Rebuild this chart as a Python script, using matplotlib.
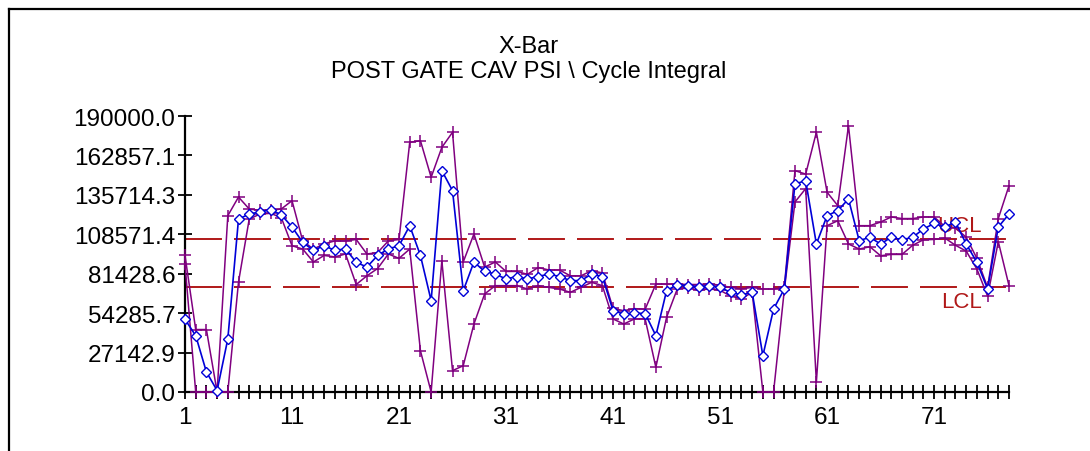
import matplotlib.pyplot as plt
import numpy as np
from matplotlib.lines import Line2D

# subgroup numbers
samples = list(range(1, 79))

# X-bar (subgroup mean), blue diamonds
xbar = [50000, 38800, 13800, 1000, 36500, 119000, 122500, 124000, 125500, 122000,
        113600, 103000, 97500, 100700, 97500, 98500, 89300, 86000, 94000, 98500,
        100700, 114500, 94000, 62900, 152400, 138600, 69700, 89500, 83000, 81200,
        77800, 79500, 77800, 79500, 81200, 79500, 76700, 76700, 81200, 79500,
        56000, 53700, 54400, 54000, 38800, 69700, 74000, 73000, 72500, 73000,
        72000, 68600, 66800, 68600, 25000, 57100, 70900, 143200, 145500, 101900,
        121400, 124800, 132900, 104200, 106500, 101900, 106500, 104800, 106500, 112200,
        116000, 113600, 117000, 101900, 89300, 70900, 113600, 122500]

# subgroup high, purple plus
high = [94000, 43000, 43000, 0, 121400, 134200, 126000, 125000, 125000, 126000,
        131700, 104000, 98400, 102000, 104000, 104000, 105000, 95000, 96000, 104000,
        105000, 171900, 173000, 147800, 168400, 178800, 89500, 108800, 86000, 89500,
        83000, 83000, 81000, 85700, 84000, 84000, 80000, 80000, 83500, 82000,
        57500, 56000, 57400, 57000, 74300, 74300, 74300, 74000, 74000, 74500,
        73500, 72000, 71000, 72000, 70900, 70900, 72000, 152400, 150000, 178800,
        137500, 128300, 183300, 114500, 114500, 117000, 120500, 119400, 119400, 120500,
        120500, 114000, 113000, 106500, 92000, 72000, 119400, 142000]

# subgroup low, purple plus
low = [88000, 0, 0, 0, 0, 75700, 119000, 122500, 123000, 120000,
       100700, 98400, 89500, 94000, 93000, 95000, 74000, 80000, 85000, 95000,
       92000, 98400, 28400, 0, 90400, 14700, 18100, 46800, 67500, 73200,
       73200, 73200, 70900, 73200, 72000, 70900, 68600, 72000, 75500, 73200,
       50300, 46800, 50300, 50300, 17000, 51400, 70900, 71500, 70000, 71000,
       70000, 66000, 64200, 68600, 0, 0, 70000, 130800, 140000, 6900,
       114500, 117900, 101900, 98400, 100000, 93800, 94700, 94700, 101000, 104800,
       105000, 106000, 101000, 97000, 84600, 66000, 103500, 73200]

ucl = 105000
lcl = 72000
y_max = 190000

plt.rcParams['font.family'] = ['Liberation Sans', 'DejaVu Sans']

fig = plt.figure(figsize=(10.9, 4.52), dpi=100)
ax = fig.add_axes([185 / 1090, 1 - 393 / 452, 824 / 1090, 276 / 452])

# control limits
red = '#b01818'
ax.axhline(ucl, color=red, lw=1.4, ls=(0, (19, 6.2)), zorder=1)
ax.axhline(lcl, color=red, lw=1.4, ls=(0, (19, 6.2)), zorder=1)
ax.text(75.5, ucl + 2500, 'UCL', color=red, fontsize=16, ha='right', va='bottom', zorder=1)
ax.text(75.5, lcl - 2500, 'LCL', color=red, fontsize=16, ha='right', va='top', zorder=1)

# data series
purple = '#800080'
ax.plot(samples, high, color=purple, lw=1.1, marker='+', ms=9, mew=1.1, clip_on=False, zorder=3)
ax.plot(samples, low, color=purple, lw=1.1, marker='+', ms=9, mew=1.1, clip_on=False, zorder=3)
ax.plot(samples, xbar, color='#0000d8', lw=1.2, marker='D', ms=5.5, mew=1.0,
        mfc='white', mec='#0000d8', clip_on=False, zorder=4)

ax.set_xlim(1, 78)
ax.set_ylim(0, y_max)

yt = np.linspace(0, y_max, 8)
ax.set_yticks(yt)
ax.set_yticklabels(['%.1f' % v for v in yt])
ax.set_xticks(samples)
ax.set_xticklabels([str(s) if (s - 1) % 10 == 0 else '' for s in samples])

ax.tick_params(axis='both', direction='inout', length=10, width=1.3, labelsize=17.5, color='black')
ax.tick_params(axis='y', pad=2)
ax.tick_params(axis='x', pad=5)

for side in ['top', 'right']:
    ax.spines[side].set_visible(False)
for side in ['left', 'bottom']:
    ax.spines[side].set_linewidth(1.6)

# title
fig.text(0.485, 1 - 46.7 / 452, 'X-Bar', ha='center', va='center', fontsize=17)
fig.text(0.485, 1 - 71.7 / 452, 'POST GATE CAV PSI \\ Cycle Integral', ha='center', va='center', fontsize=17)

# outer frame (left and top edges)
fig.add_artist(Line2D([9 / 1090, 9 / 1090], [0, 1 - 10 / 452], color='black', lw=1.6))
fig.add_artist(Line2D([9 / 1090, 1], [1 - 10 / 452, 1 - 10 / 452], color='black', lw=1.6))

fig.savefig('out.png', dpi=100)
